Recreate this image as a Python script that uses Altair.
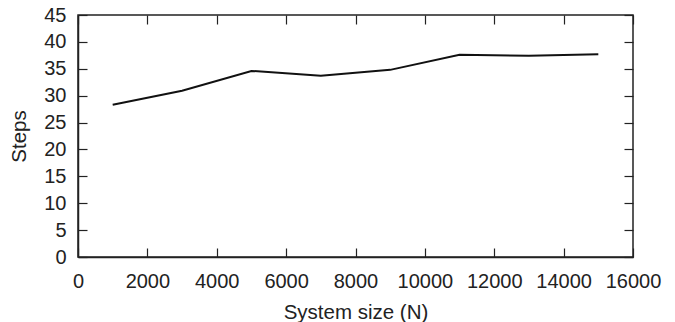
import altair as alt
import pandas as pd

# Mean number of steps versus system size
system_size = [1000, 3000, 5000, 7000, 9000, 11000, 13000, 15000]
steps = [28.3, 30.9, 34.6, 33.7, 34.8, 37.6, 37.4, 37.7]

x_ticks = list(range(0, 16001, 2000))
y_ticks = list(range(0, 46, 5))

df = pd.DataFrame({"N": system_size, "steps": steps})

W, H = 555, 242
FONT = "Liberation Sans"
INK = "#222222"

x_scale = alt.Scale(domain=[0, 16000], nice=False)
y_scale = alt.Scale(domain=[0, 45], nice=False)

base = alt.Chart(df)

# Visible line with labelled axes (bottom / left)
main = base.mark_line(color="#111111", strokeWidth=2).encode(
    x=alt.X("N:Q", scale=x_scale, axis=alt.Axis(
        orient="bottom", values=x_ticks, ticks=False, labelPadding=14,
        labelOverlap=False, labelFlush=False,
        title="System size (N)", titlePadding=11, format="d")),
    y=alt.Y("steps:Q", scale=y_scale, axis=alt.Axis(
        orient="left", values=y_ticks, ticks=False, labelPadding=12,
        labelOverlap=False, labelFlush=False,
        title="Steps", titlePadding=14)),
)

# Inward ticks along the bottom and left edges
ticks_bl = base.mark_line(opacity=0).encode(
    x=alt.X("N:Q", scale=x_scale, axis=alt.Axis(
        orient="top", offset=-H, values=x_ticks, labels=False, title=None,
        domain=False, tickSize=9)),
    y=alt.Y("steps:Q", scale=y_scale, axis=alt.Axis(
        orient="right", offset=-W, values=y_ticks, labels=False, title=None,
        domain=False, tickSize=9)),
)

# Inward ticks along the top and right edges
ticks_tr = base.mark_line(opacity=0).encode(
    x=alt.X("N:Q", scale=x_scale, axis=alt.Axis(
        orient="bottom", offset=-H, values=x_ticks, labels=False, title=None,
        domain=False, tickSize=9)),
    y=alt.Y("steps:Q", scale=y_scale, axis=alt.Axis(
        orient="left", offset=-W, values=y_ticks, labels=False, title=None,
        domain=False, tickSize=9)),
)

chart = (
    alt.layer(main, ticks_bl, ticks_tr)
    .resolve_axis(x="independent", y="independent")
    .properties(
        width=W, height=H,
        autosize=alt.AutoSizeParams(type="none"),
        padding={"left": 78, "top": 15, "right": 42, "bottom": 65},
        background="white",
    )
    .configure_view(stroke=INK, strokeWidth=1.5)
    .configure_axis(
        labelFont=FONT, titleFont=FONT, labelFontSize=20, titleFontSize=20.5,
        labelColor=INK, titleColor=INK, titleFontWeight="normal",
        domainColor=INK, domainWidth=1.5, tickColor=INK, tickWidth=1.2,
        grid=False,
    )
)

chart.save("out.html", embed_options={"renderer": "svg", "actions": False})
